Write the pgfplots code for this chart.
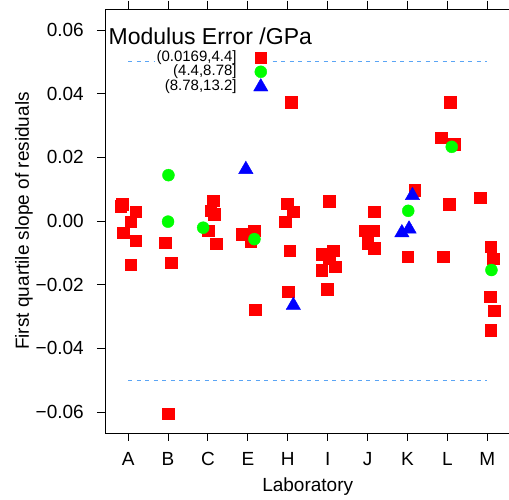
\documentclass[border=0pt]{standalone}
\usepackage{fontspec}
\setmainfont{Liberation Sans}
\usepackage{pgfplots}
\pgfplotsset{compat=1.18}
\definecolor{refline}{RGB}{90,165,245}
\begin{document}
\begin{tikzpicture}
\begin{axis}[
    scale only axis, width=405.4pt, height=424pt,
    at={(0pt,0pt)}, anchor=south west,
    xmin=0.42, xmax=10.58, ymin=-0.0666, ymax=0.0666,
    xtick={1,2,3,4,5,6,7,8,9,10},
    xticklabels={A,B,C,E,H,I,J,K,L,M},
    ytick={-0.06,-0.04,-0.02,0,0.02,0.04,0.06},
    yticklabels={−0.06,−0.04,−0.02,0.00,0.02,0.04,0.06},
    tick align=outside, major tick length=8pt,
    xtick pos=both, ytick pos=left,
    axis line style={line width=0.9pt},
    every tick/.style={black, line width=0.9pt},
    tick label style={font=\fontsize{19}{22}\selectfont},
    xticklabel style={anchor=base, yshift=-25pt},
    yticklabel style={anchor=east, inner sep=0pt, xshift=-13pt},
    label style={font=\fontsize{19}{22}\selectfont},
    xlabel={Laboratory},
    xlabel style={at={(axis description cs:0.5,0)}, anchor=base, yshift=-58.7pt},
    ylabel={First quartile slope of residuals},
    ylabel style={at={(axis description cs:0,0.5)}, anchor=center, yshift=81pt},
    legend plot pos=right,
    legend cell align=right,
    legend style={draw=none, fill=white, at={(rel axis cs:0.405,0.9057)},
        anchor=north east, font=\fontsize{15}{15}\selectfont,
        inner sep=1pt, row sep=-0.6pt, column sep=16pt,
        nodes={inner sep=1pt, text height=10pt, text depth=2.8pt}},
]

% reference lines at +-0.05
\addplot[refline, line width=0.9pt, dash pattern=on 4pt off 4.5pt, forget plot]
    coordinates {(1,0.05) (10,0.05)};
\addplot[refline, line width=0.9pt, dash pattern=on 4pt off 4.5pt, forget plot]
    coordinates {(1,-0.05) (10,-0.05)};

% (0.0169,4.4]
\addplot[only marks, color=red, mark=square*, mark size=5.8pt, mark options={line width=0.4pt}]
    coordinates {
    (0.817,0.0047) (0.857,0.0053) (1.193,0.0029) (1.068,-0.0002)
    (0.875,-0.0037) (1.193,-0.0062) (1.068,-0.0137)
    (1.927,-0.0068) (2.078,-0.0131) (2.003,-0.0605)
    (3.13,0.0064) (3.07,0.0032) (3.155,0.0022) (3.005,-0.0030) (3.205,-0.0071)
    (3.85,-0.0041) (4.16,-0.0031) (4.075,-0.0065) (4.18,-0.0279)
    (5.085,0.0374) (4.985,0.0054) (5.135,0.0029) (4.935,-0.0002)
    (5.05,-0.0093) (5.01,-0.0222)
    (6.04,0.0063) (5.855,-0.0104) (6.14,-0.0093) (6.04,-0.0117)
    (6.19,-0.0143) (5.855,-0.0154) (5.99,-0.0214)
    (7.165,0.0029) (6.94,-0.0030) (7.14,-0.0030) (7.0,-0.0070) (7.165,-0.0086)
    (8.185,0.0097) (8.01,-0.0112)
    (9.07,0.0374) (8.84,0.0262) (9.17,0.0241) (9.045,0.0053) (8.89,-0.0112)
    (9.82,0.0073) (10.09,-0.0081) (10.15,-0.0119) (10.07,-0.0238)
    (10.17,-0.0282) (10.09,-0.0344)
    };
\addlegendentry{(0.0169,4.4]}

% (4.4,8.78]
\addplot[only marks, color=green, mark=*, mark size=6pt, mark options={line width=0.4pt}]
    coordinates {
    (2.01,0.0144) (2.0,-0.0002) (2.88,-0.0021) (4.165,-0.0057)
    (8.02,0.0032) (9.11,0.0233) (10.105,-0.0154)
    };
\addlegendentry{(4.4,8.78]}

% (8.78,13.2]
\addplot[only marks, color=blue, mark=triangle*, mark size=8.3pt, mark options={line width=0.4pt}]
    coordinates {
    (3.95,0.0162) (5.14,-0.0265) (8.125,0.0080) (8.04,-0.0025) (7.86,-0.0037)
    };
\addlegendentry{(8.78,13.2]}

\node[anchor=base west, inner sep=0pt, xshift=3.5pt, yshift=-35pt,
      font=\fontsize{23}{25}\selectfont] at (rel axis cs:0,1) {Modulus Error /GPa};
\end{axis}
\pgfresetboundingbox
\path[use as bounding box] (-105pt,-67pt) rectangle (404pt,433pt);
\end{tikzpicture}
\end{document}
